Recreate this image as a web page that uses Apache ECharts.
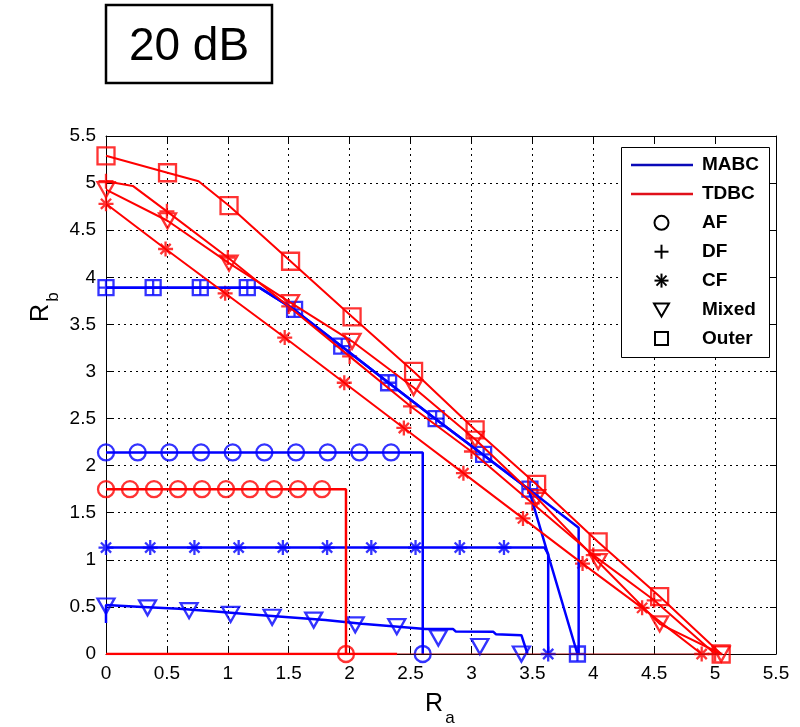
<!DOCTYPE html>
<html>
<head>
<meta charset="utf-8">
<script src="https://cdn.jsdelivr.net/npm/echarts@6/dist/echarts.min.js"></script>
<style>
  html, body { margin: 0; padding: 0; background: #fff; }
  #chart { width: 800px; height: 727px; }
</style>
</head>
<body>
<div id="chart"></div>
<script>
// Axis range shared by Ra and Rb
const axisMin = 0;
const axisMax = 5.5;
const axisStep = 0.5;

// ---- MABC (blue) rate regions: boundary polylines and marker points ----
const mabcAfLine = [[0, 2.14], [2.60, 2.14], [2.60, 0]];
const mabcAfMarks = [[0, 2.14], [0.26, 2.14], [0.52, 2.14], [0.78, 2.14], [1.04, 2.14], [1.30, 2.14],
  [1.56, 2.14], [1.82, 2.14], [2.08, 2.14], [2.34, 2.14], [2.60, 0]];

const mabcCfLine = [[0, 1.13], [3.60, 1.13], [3.63, 1.06], [3.63, 0]];
const mabcCfMarks = [[0, 1.13], [0.363, 1.13], [0.726, 1.13], [1.089, 1.13], [1.452, 1.13], [1.815, 1.13],
  [2.178, 1.13], [2.541, 1.13], [2.904, 1.13], [3.267, 1.13], [3.63, 0]];

const mabcDfLine = [[0, 3.89], [1.26, 3.89], [1.54, 3.66], [1.93, 3.27], [2.32, 2.88], [2.70, 2.50],
  [3.09, 2.12], [3.47, 1.75], [3.87, 0]];
const mabcDfMarks = [[0, 3.89], [0.387, 3.89], [0.774, 3.89], [1.16, 3.89], [1.548, 3.66], [1.935, 3.27],
  [2.32, 2.88], [2.71, 2.50], [3.10, 2.12], [3.48, 1.75], [3.87, 0]];

const mabcOuterLine = [[0, 3.89], [1.26, 3.89], [1.54, 3.66], [1.93, 3.27], [2.32, 2.88], [2.70, 2.50],
  [3.09, 2.12], [3.47, 1.75], [3.88, 1.34], [3.88, 0]];
const mabcOuterMarks = [[0, 3.89], [0.387, 3.89], [0.774, 3.89], [1.16, 3.89], [1.548, 3.66], [1.935, 3.27],
  [2.32, 2.88], [2.71, 2.50], [3.10, 2.12], [3.48, 1.75], [3.87, 0]];

const mabcMixedLine = [[0, 0.33], [0, 0.52], [0.3, 0.50], [0.6, 0.48], [0.9, 0.45], [1.2, 0.42], [1.5, 0.39],
  [1.8, 0.36], [2.1, 0.32], [2.4, 0.29], [2.62, 0.265], [2.85, 0.265], [2.87, 0.24], [3.18, 0.235],
  [3.20, 0.21], [3.41, 0.20], [3.46, 0]];
const mabcMixedMarks = [[0, 0.51], [0.341, 0.49], [0.682, 0.46], [1.023, 0.42], [1.364, 0.39], [1.705, 0.36],
  [2.046, 0.31], [2.387, 0.29], [2.728, 0.17], [3.069, 0.08], [3.41, 0]];

// ---- TDBC (red) rate regions ----
const tdbcAfLine = [[0, 1.75], [1.97, 1.75], [1.97, 0]];
const tdbcAfMarks = [[0, 1.75], [0.197, 1.75], [0.394, 1.75], [0.591, 1.75], [0.788, 1.75], [0.985, 1.75],
  [1.182, 1.75], [1.379, 1.75], [1.576, 1.75], [1.773, 1.75], [1.97, 0]];

const tdbcOuterLine = [[0, 5.29], [0.505, 5.11], [0.76, 5.02], [1.01, 4.76], [1.515, 4.17], [2.02, 3.58],
  [2.525, 3.00], [3.03, 2.38], [3.535, 1.80], [4.04, 1.19], [4.545, 0.61], [5.05, 0]];
const tdbcOuterMarks = [[0, 5.29], [0.505, 5.11], [1.01, 4.76], [1.515, 4.17], [2.02, 3.58],
  [2.525, 3.00], [3.03, 2.38], [3.535, 1.80], [4.04, 1.19], [4.545, 0.61], [5.05, 0]];

const tdbcDfLine = [[0, 5.02], [0.22, 4.97], [0.5, 4.70], [1.0, 4.21], [1.5, 3.69], [2.0, 3.16], [2.5, 2.63],
  [3.0, 2.15], [3.5, 1.60], [4.0, 1.05], [4.5, 0.57], [5.0, 0]];
const tdbcDfMarks = [[0, 5.02], [0.5, 4.70], [1.0, 4.21], [1.5, 3.69], [2.0, 3.16], [2.5, 2.63],
  [3.0, 2.15], [3.5, 1.60], [4.0, 1.05], [4.5, 0.57], [5.0, 0]];

const tdbcCfLine = [[0, 4.78], [0.489, 4.30], [0.978, 3.83], [1.467, 3.36], [1.956, 2.88], [2.445, 2.40],
  [2.934, 1.92], [3.423, 1.44], [3.912, 0.96], [4.401, 0.49], [4.89, 0]];
const tdbcCfMarks = [[0, 4.78], [0.489, 4.30], [0.978, 3.83], [1.467, 3.36], [1.956, 2.88], [2.445, 2.40],
  [2.934, 1.92], [3.423, 1.44], [3.912, 0.96], [4.401, 0.49], [4.89, 0]];

const tdbcMixedLine = [[0, 4.93], [0.505, 4.60], [1.01, 4.15], [1.515, 3.73], [2.02, 3.32], [2.525, 2.83],
  [3.03, 2.28], [3.535, 1.66], [4.04, 0.98], [4.545, 0.32], [5.05, 0]];
const tdbcMixedMarks = [[0, 4.93], [0.505, 4.60], [1.01, 4.15], [1.515, 3.73], [2.02, 3.32], [2.525, 2.83],
  [3.03, 2.28], [3.535, 1.66], [4.04, 0.98], [4.545, 0.32], [5.05, 0]];

// Closing edges of the TDBC regions along Rb = 0
const tdbcBaseLine = [[0, 0], [2.39, 0]];
const tdbcBaseTail = [[2.39, 0], [5.05, 0]];

// Legend entries
const legendLines = ['MABC', 'TDBC'];
const legendMarkers = ['AF', 'DF', 'CF', 'Mixed', 'Outer'];

const BLUE = '#0000ff';
const RED = '#ff0000';

// Marker shapes (open outlines, drawn as strokes)
const SYM_PLUS = 'path://M5,0L5,10M0,5L10,5';
const SYM_STAR = 'path://M5,0L5,10M0,5L10,5M1.6,1.6L8.4,8.4M8.4,1.6L1.6,8.4';
const SYM_TRI = 'path://M0,0L10,0L5,8.8Z';

function lineSeries(data, color, width) {
  return {
    type: 'line', data: data, symbol: 'none', showSymbol: false,
    lineStyle: { color: color, width: width || 2.5 },
    itemStyle: { color: color }, animation: false, silent: true
  };
}
function markSeries(data, color, symbol, size) {
  return {
    type: 'scatter', data: data, symbol: symbol, symbolSize: size,
    itemStyle: { color: 'rgba(0,0,0,0)', borderColor: color, borderWidth: 2.3 },
    animation: false, silent: true
  };
}

const series = [
  lineSeries(mabcAfLine, BLUE), markSeries(mabcAfMarks, BLUE, 'circle', 16),
  lineSeries(mabcCfLine, BLUE), markSeries(mabcCfMarks, BLUE, SYM_STAR, 15),
  lineSeries(mabcMixedLine, BLUE), markSeries(mabcMixedMarks, BLUE, SYM_TRI, [17, 15]),
  lineSeries(mabcOuterLine, BLUE), markSeries(mabcOuterMarks, BLUE, 'rect', 15),
  lineSeries(mabcDfLine, BLUE), markSeries(mabcDfMarks, BLUE, SYM_PLUS, 14),
  lineSeries(tdbcBaseLine, RED, 2.5), lineSeries(tdbcBaseTail, '#b01010', 1.2),
  lineSeries(tdbcAfLine, RED), markSeries(tdbcAfMarks, RED, 'circle', 16),
  lineSeries(tdbcCfLine, RED, 2), markSeries(tdbcCfMarks, RED, SYM_STAR, 15),
  lineSeries(tdbcMixedLine, RED, 2), markSeries(tdbcMixedMarks, RED, SYM_TRI, [17, 15]),
  lineSeries(tdbcDfLine, RED, 2), markSeries(tdbcDfMarks, RED, SYM_PLUS, 15),
  lineSeries(tdbcOuterLine, RED, 2), markSeries(tdbcOuterMarks, RED, 'rect', 17)
];

// Legend drawn as a boxed panel at the upper right of the plot
const LG_X = 621, LG_Y = 147, LG_W = 148, LG_H = 210;
const ROW0 = 165, ROW_STEP = 28.9, TEXT_X = 702, ICON_X = 661.5;
const FONT_LEGEND = 'bold 19px "Liberation Sans", Arial, sans-serif';
const legendEls = [{
  type: 'rect', z: 100,
  shape: { x: LG_X + 0.5, y: LG_Y + 0.5, width: LG_W, height: LG_H },
  style: { fill: '#fff', stroke: '#000', lineWidth: 1 }
}];
const lineColors = ['#0a0ab8', '#e0101a'];
legendLines.forEach(function (name, i) {
  const y = ROW0 + i * ROW_STEP;
  legendEls.push({ type: 'line', z: 101, shape: { x1: 631, y1: y, x2: 693, y2: y },
    style: { stroke: lineColors[i], lineWidth: 2.5 } });
  legendEls.push({ type: 'text', z: 101, x: TEXT_X, y: y,
    style: { text: name, font: FONT_LEGEND, fill: '#000', verticalAlign: 'middle', align: 'left' } });
});
legendMarkers.forEach(function (name, j) {
  const y = ROW0 + (j + 2) * ROW_STEP;
  const st = { stroke: '#000', lineWidth: 2, fill: 'none' };
  let icon;
  if (name === 'AF') {
    icon = { type: 'circle', shape: { cx: ICON_X, cy: y, r: 7 }, style: st };
  } else if (name === 'DF') {
    icon = { type: 'polyline', shape: { points: [[ICON_X, y - 7], [ICON_X, y + 7]] }, style: st };
    legendEls.push({ type: 'polyline', z: 101, shape: { points: [[ICON_X - 7, y], [ICON_X + 7, y]] }, style: st });
  } else if (name === 'CF') {
    [[0, 7], [7, 0], [5, 5], [5, -5]].forEach(function (d) {
      legendEls.push({ type: 'polyline', z: 101,
        shape: { points: [[ICON_X - d[0], y - d[1]], [ICON_X + d[0], y + d[1]]] }, style: st });
    });
  } else if (name === 'Mixed') {
    icon = { type: 'polygon', shape: { points: [[ICON_X - 7.5, y - 6], [ICON_X + 7.5, y - 6], [ICON_X, y + 7]] }, style: st };
  } else {
    icon = { type: 'rect', shape: { x: ICON_X - 6.5, y: y - 6.5, width: 13, height: 13 }, style: st };
  }
  if (icon) { icon.z = 101; legendEls.push(icon); }
  legendEls.push({ type: 'text', z: 101, x: TEXT_X, y: y,
    style: { text: name, font: FONT_LEGEND, fill: '#000', verticalAlign: 'middle', align: 'left' } });
});

// Title box and axis names
const titleEls = [
  { type: 'rect', shape: { x: 106, y: 5, width: 166, height: 78 },
    style: { fill: '#fff', stroke: '#000', lineWidth: 2.5 } },
  { type: 'text', x: 189, y: 47,
    style: { text: '20 dB', font: '46px "Liberation Sans", Arial, sans-serif', fill: '#000',
      align: 'center', verticalAlign: 'middle' } },
  { type: 'text', x: 434, y: 704,
    style: { text: 'R', font: '25px "Liberation Sans", Arial, sans-serif', fill: '#000',
      align: 'center', verticalAlign: 'middle' } },
  { type: 'text', x: 450, y: 718,
    style: { text: 'a', font: '17px "Liberation Sans", Arial, sans-serif', fill: '#000',
      align: 'center', verticalAlign: 'middle' } },
  { type: 'text', x: 41, y: 313, rotation: Math.PI / 2,
    style: { text: 'R', font: '25px "Liberation Sans", Arial, sans-serif', fill: '#000',
      align: 'center', verticalAlign: 'middle' } },
  { type: 'text', x: 53, y: 297, rotation: Math.PI / 2,
    style: { text: 'b', font: '17px "Liberation Sans", Arial, sans-serif', fill: '#000',
      align: 'center', verticalAlign: 'middle' } }
];

const tickFont = { fontSize: 19, fontFamily: '"Liberation Sans", Arial, sans-serif', color: '#000' };
const gridLine = { show: true, lineStyle: { color: '#000', width: 1, type: [2, 4] } };
const boxLine = { show: true, onZero: false, lineStyle: { color: '#000', width: 1 } };
const inTick = { show: true, inside: true, length: 6, lineStyle: { color: '#000', width: 1 } };

const chart = echarts.init(document.getElementById('chart'), null, { renderer: 'canvas' });
chart.setOption({
  backgroundColor: '#fff',
  animation: false,
  grid: { left: 106, right: 24, top: 136, bottom: 73, containLabel: false },
  xAxis: [
    { type: 'value', min: axisMin, max: axisMax, interval: axisStep, position: 'bottom',
      axisLine: boxLine, axisTick: inTick, splitLine: gridLine,
      axisLabel: Object.assign({ margin: 10, showMinLabel: true, showMaxLabel: true }, tickFont) },
    { type: 'value', min: axisMin, max: axisMax, interval: axisStep, position: 'top',
      axisLine: boxLine, axisTick: inTick, splitLine: { show: false }, axisLabel: { show: false } }
  ],
  yAxis: [
    { type: 'value', min: axisMin, max: axisMax, interval: axisStep, position: 'left',
      axisLine: boxLine, axisTick: inTick, splitLine: gridLine,
      axisLabel: Object.assign({ margin: 10, showMinLabel: true, showMaxLabel: true }, tickFont) },
    { type: 'value', min: axisMin, max: axisMax, interval: axisStep, position: 'right',
      axisLine: boxLine, axisTick: inTick, splitLine: { show: false }, axisLabel: { show: false } }
  ],
  graphic: { elements: titleEls.concat(legendEls) },
  series: series
});
</script>
</body>
</html>
